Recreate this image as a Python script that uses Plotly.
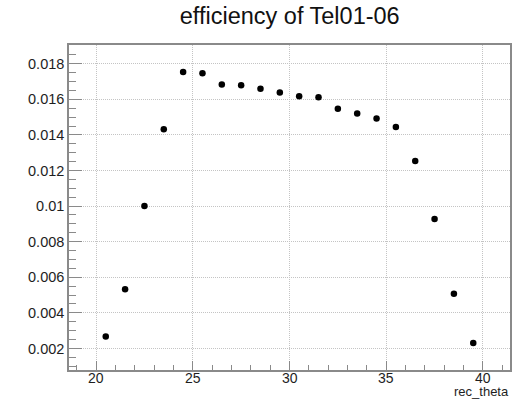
import plotly.graph_objects as go

# Efficiency per rec_theta bin (bin centres)
rec_theta = [20.5, 21.5, 22.5, 23.5, 24.5, 25.5, 26.5, 27.5, 28.5, 29.5,
             30.5, 31.5, 32.5, 33.5, 34.5, 35.5, 36.5, 37.5, 38.5, 39.5]
efficiency = [0.00267, 0.00532, 0.01000, 0.01432, 0.01753, 0.01747, 0.01683,
              0.01679, 0.01660, 0.01638, 0.01617, 0.01611, 0.01547, 0.01520,
              0.01492, 0.01444, 0.01253, 0.00927, 0.00508, 0.00231]

x_tickvals = [20, 25, 30, 35, 40]
x_ticktext = ["20", "25", "30", "35", "40"]
y_tickvals = [0.002, 0.004, 0.006, 0.008, 0.010, 0.012, 0.014, 0.016, 0.018]
y_ticktext = ["0.002", "0.004", "0.006", "0.008", "0.01", "0.012", "0.014", "0.016", "0.018"]

# Graph-style padding: 10% of the data span on each side
xspan = max(rec_theta) - min(rec_theta)
yspan = max(efficiency) - min(efficiency)
xrange = [min(rec_theta) - 0.1 * xspan, max(rec_theta) + 0.1 * xspan]
yrange = [min(efficiency) - 0.1 * yspan, max(efficiency) + 0.1 * yspan]

FONT = "Liberation Sans, Arial, Helvetica, sans-serif"
FRAME = "#8a8a8a"
GRID = "#c4c4c4"
TEXT = "#1e1e1e"

W, H = 518, 399
M = dict(l=69, r=6, t=45, b=29)
PLOT_H = H - M["t"] - M["b"]

fig = go.Figure(
    go.Scatter(
        x=rec_theta,
        y=efficiency,
        mode="markers",
        marker=dict(symbol="circle", size=6.5, color="black", line=dict(width=0)),
        showlegend=False,
        hoverinfo="x+y",
    )
)

# x tick labels sit snugly under the frame, placed at the axis tick values
x_labels = [
    dict(text=t, x=v, xref="x", y=-7.5 / PLOT_H, yref="paper",
         xanchor="center", yanchor="middle", showarrow=False, borderpad=0,
         font=dict(family=FONT, size=14, color=TEXT))
    for v, t in zip(x_tickvals, x_ticktext)
]

fig.update_layout(
    width=W,
    height=H,
    margin=M,
    paper_bgcolor="white",
    plot_bgcolor="white",
    font=dict(family=FONT, color=TEXT, size=14),
    title=dict(
        text="efficiency of Tel01-06",
        x=0.5593, xanchor="center",
        y=1 - 16 / H, yanchor="middle",
        font=dict(family=FONT, size=23.5, color="#111111"),
    ),
    annotations=x_labels + [
        dict(
            text="rec_theta", xref="paper", yref="paper",
            x=1.0, y=-21.5 / PLOT_H, xanchor="right", yanchor="middle",
            showarrow=False, borderpad=0,
            font=dict(family=FONT, size=13, color=TEXT),
        )
    ],
)

fig.update_xaxes(
    range=xrange,
    tickmode="array", tickvals=x_tickvals, ticktext=x_ticktext,
    showticklabels=False,
    ticks="inside", ticklen=9, tickwidth=1, tickcolor=FRAME,
    minor=dict(dtick=1, tick0=0, ticks="inside", ticklen=5, tickwidth=1, tickcolor=FRAME,
               showgrid=False),
    showline=True, linecolor=FRAME, linewidth=1.5, mirror=True,
    showgrid=True, gridcolor=GRID, griddash="1px,1px", gridwidth=1,
    zeroline=False,
)

fig.update_yaxes(
    range=yrange,
    tickmode="array", tickvals=y_tickvals, ticktext=y_ticktext,
    ticks="inside", ticklen=13, tickwidth=1, tickcolor=FRAME,
    minor=dict(dtick=0.0005, tick0=0, ticks="inside", ticklen=7, tickwidth=1, tickcolor=FRAME,
               showgrid=False),
    showline=True, linecolor=FRAME, linewidth=1.5, mirror=True,
    showgrid=True, gridcolor=GRID, griddash="1px,1px", gridwidth=1,
    zeroline=False,
    tickfont=dict(family=FONT, size=14.5, color=TEXT),
)

fig.write_html("out.html")
